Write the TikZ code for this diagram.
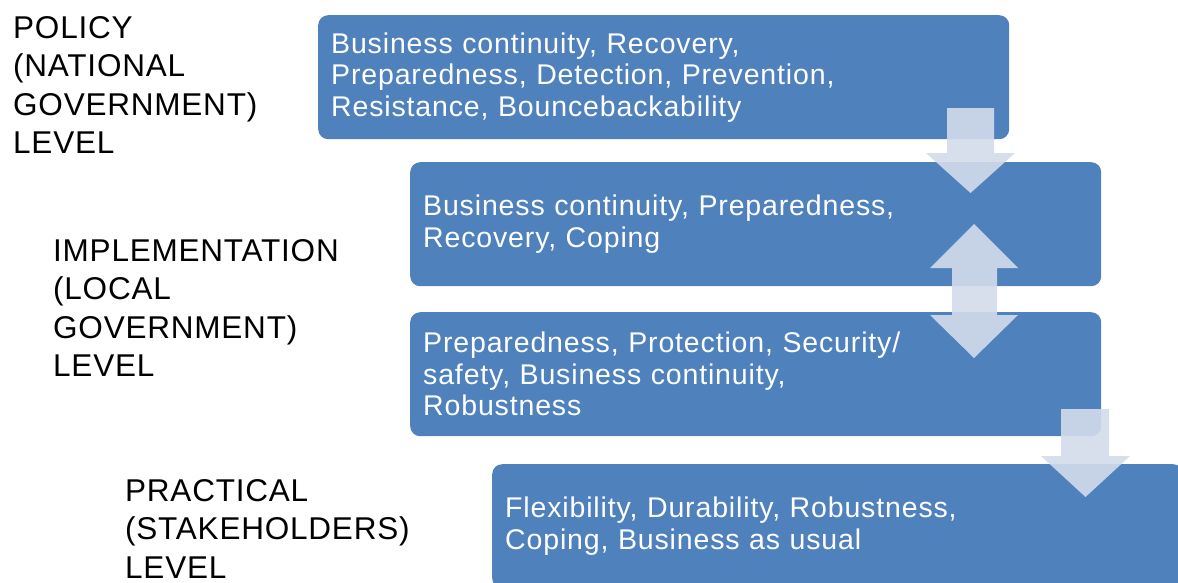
\documentclass[tikz,border=0pt]{standalone}
\usepackage{fontspec}
\setmainfont{Liberation Sans}
\newfontfamily\boxfont[LetterSpace=3,WordSpace=1.6]{Liberation Sans}
\newfontfamily\labelfont[LetterSpace=2.5]{Liberation Sans}
\definecolor{boxblue}{RGB}{79,129,189}
\definecolor{arrowfill}{RGB}{212,220,235}
\begin{document}
\begin{tikzpicture}[x=1pt,y=-1pt,
  levelbox/.style={draw=none,fill=boxblue,rounded corners=10pt,anchor=north west,
    minimum height=124pt,text width=665pt,inner xsep=13pt,inner ysep=0pt,
    align=left,text=white,font=\boxfont\fontsize{28.5}{31.5}\selectfont},
  levellabel/.style={anchor=north west,inner sep=0pt,align=left,text=black,
    font=\labelfont\fontsize{31.5}{38.5}\selectfont},
  blockarrow/.style={fill=arrowfill,fill opacity=0.9,draw=none}]
\clip (0,0) rectangle (1178,582);
\fill[white] (0,0) rectangle (1178,582);
% boxes
\node[levelbox] (b1) at (318,15) {Business continuity, Recovery,\\Preparedness, Detection, Prevention,\\Resistance, Bouncebackability};
\node[levelbox] (b2) at (410,162) {Business continuity, Preparedness,\\Recovery, Coping};
\node[levelbox] (b3) at (410,312) {Preparedness, Protection, Security/\\safety, Business continuity,\\Robustness};
\node[levelbox] (b4) at (492,464) {Flexibility, Durability, Robustness,\\Coping, Business as usual};
% level labels
\node[levellabel] (l1) at (13,16) {POLICY\\(NATIONAL\\GOVERNMENT)\\LEVEL};
\node[levellabel] (l2) at (53,239) {IMPLEMENTATION\\(LOCAL\\GOVERNMENT)\\LEVEL};
\node[levellabel] (l3) at (125,479) {PRACTICAL\\(STAKEHOLDERS)\\LEVEL};
% block arrows
\fill[blockarrow] (947,108) -- (994,108) -- (994,153) -- (1015,153) -- (970.5,193)
  -- (926,153) -- (947,153) -- cycle;
\fill[blockarrow] (974,224) -- (1018,268) -- (997,268) -- (997,315) -- (1018,315)
  -- (974,358) -- (930,315) -- (952,315) -- (952,268) -- (930,268) -- cycle;
\fill[blockarrow] (1061,409) -- (1109,409) -- (1109,456) -- (1130,456) -- (1085.5,497)
  -- (1041,456) -- (1061,456) -- cycle;
\end{tikzpicture}
\end{document}
